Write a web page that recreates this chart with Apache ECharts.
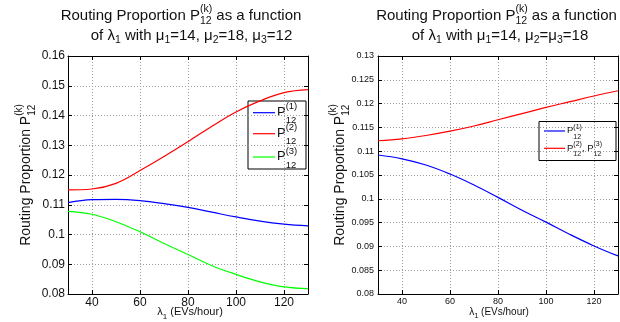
<!DOCTYPE html>
<html>
<head>
<meta charset="utf-8">
<script src="https://cdn.jsdelivr.net/npm/echarts@6/dist/echarts.min.js"></script>
<style>
  html, body { margin: 0; padding: 0; background: #fff; }
  #chart { width: 620px; height: 322px; }
</style>
</head>
<body>
<div id="chart"></div>
<script>
// Arrival rate lambda_1 (EVs/hour)
const lambda = [30, 40, 50, 60, 70, 80, 90, 100, 110, 120, 130];

// Left panel: mu1=14, mu2=18, mu3=12
const leftP1 = [0.1107, 0.1117, 0.1118, 0.1114, 0.1104, 0.1091, 0.1075, 0.1059, 0.1045, 0.1035, 0.1029];
const leftP2 = [0.1150, 0.1153, 0.1172, 0.1215, 0.1262, 0.1312, 0.1364, 0.1412, 0.1449, 0.1477, 0.1487];
const leftP3 = [0.1078, 0.1068, 0.1043, 0.1009, 0.0970, 0.0933, 0.0895, 0.0866, 0.0841, 0.0824, 0.0818];

// Right panel: mu1=14, mu2=mu3=18 (P2 and P3 coincide)
const rightP1 = [0.1092, 0.1084, 0.1071, 0.1052, 0.1029, 0.1003, 0.0976, 0.0951, 0.0925, 0.0901, 0.0880];
const rightP23 = [0.1122, 0.1126, 0.1133, 0.1142, 0.1153, 0.1166, 0.1179, 0.1192, 0.1204, 0.1216, 0.1227];

const xTickValues = [40, 60, 80, 100, 120];
const colors = { p1: '#0000ff', p2: '#ff0000', p3: '#00ff00' };

const FONT = '"Liberation Sans", Arial, Helvetica, sans-serif';
const TEXT = '#111';

// ---- small math-text layout: plain runs plus stacked super/subscripts ----
const mctx = document.createElement('canvas').getContext('2d');
function textWidth(s, size) { mctx.font = size + 'px ' + FONT; return mctx.measureText(s).width; }

function mathRun(pieces, size, small, supUp, subDown) {
  let x = 0;
  const items = [];
  pieces.forEach(p => {
    if (typeof p === 'string') {
      items.push({ t: p, x, size, dy: 0 });
      x += textWidth(p, size);
    } else {
      let w = 0;
      if (p.sup) { items.push({ t: p.sup, x, size: small, dy: -supUp }); w = Math.max(w, textWidth(p.sup, small)); }
      if (p.sub) { items.push({ t: p.sub, x, size: small, dy: subDown }); w = Math.max(w, textWidth(p.sub, small)); }
      x += w;
    }
  });
  return { width: x, items };
}

// text elements with their alphabetic baseline at `baseline`
function runElements(run, x0, baseline) {
  return run.items.map(it => ({
    type: 'text',
    x: x0 + it.x,
    y: baseline + it.dy - 0.35 * it.size,
    silent: true,
    style: { text: it.t, font: it.size + 'px ' + FONT, fill: TEXT, align: 'left', verticalAlign: 'middle' }
  }));
}

function centeredLine(pieces, cx, baseline, size, small, supUp, subDown) {
  const run = mathRun(pieces, size, small, supUp, subDown);
  return runElements(run, cx - run.width / 2, baseline);
}

function verticalLabel(pieces, bx, cy, size, small, supUp, subDown) {
  const run = mathRun(pieces, size, small, supUp, subDown);
  return {
    type: 'group', x: bx, y: cy, rotation: Math.PI / 2,
    children: runElements(run, -run.width / 2, 0)
  };
}

function legendBox(box, entries, lineX0, lineX1, size, small, supUp, subDown) {
  const els = [{
    type: 'rect', silent: true,
    shape: { x: box.x, y: box.y, width: box.w, height: box.h },
    style: { fill: '#fff', stroke: '#000', lineWidth: 1 }
  }];
  entries.forEach(e => {
    els.push({
      type: 'line', silent: true,
      shape: { x1: lineX0, y1: e.y, x2: lineX1, y2: e.y },
      style: { stroke: e.color, lineWidth: 1.2 }
    });
    const run = mathRun(e.label, size, small, supUp, subDown);
    els.push(...runElements(run, lineX1 + 2, e.y + size * 0.33));
  });
  return els;
}

// ---- text content ----
const titleLine1 = ['Routing Proportion P', { sup: '(k)', sub: '12' }, ' as a function'];
const leftTitle2 = ['of λ', { sub: '1' }, ' with μ', { sub: '1' }, '=14, μ', { sub: '2' }, '=18, μ', { sub: '3' }, '=12'];
const rightTitle2 = ['of λ', { sub: '1' }, ' with μ', { sub: '1' }, '=14, μ', { sub: '2' }, '=μ', { sub: '3' }, '=18'];
const yName = ['Routing Proportion P', { sup: '(k)', sub: '12' }];
const xName = ['λ', { sub: '1' }, ' (EVs/hour)'];

const leftLegend = [
  { label: ['P', { sup: '(1)', sub: '12' }], color: colors.p1 },
  { label: ['P', { sup: '(2)', sub: '12' }], color: colors.p2 },
  { label: ['P', { sup: '(3)', sub: '12' }], color: colors.p3 }
];
const rightLegend = [
  { label: ['P', { sup: '(1)', sub: '12' }], color: colors.p1 },
  { label: ['P', { sup: '(2)', sub: '12' }, ', P', { sup: '(3)', sub: '12' }], color: colors.p2 }
];

const graphics = [].concat(
  centeredLine(titleLine1, 181, 20.7, 15, 10.5, 8, 4.5),
  centeredLine(leftTitle2, 191.5, 40.7, 15, 10.5, 7, 3.5),
  centeredLine(titleLine1, 496.5, 20.7, 15, 10.5, 8, 4.5),
  centeredLine(rightTitle2, 500, 40.7, 15, 10.5, 7, 3.5),
  [verticalLabel(yName, 31, 175, 14, 10, 8, 4.5)],
  [verticalLabel(yName, 345, 175, 14, 10, 8, 4.5)],
  centeredLine(xName, 190, 316, 11, 8, 5, 3.5),
  centeredLine(xName, 499, 315.5, 10, 7.5, 5, 3.5),
  legendBox({ x: 248, y: 101, w: 58, h: 68 },
    leftLegend.map((e, i) => Object.assign({ y: [112.7, 133.7, 157][i] }, e)),
    253, 275, 13, 9.5, 7, 7),
  legendBox({ x: 539, y: 121.5, w: 77, h: 39 },
    rightLegend.map((e, i) => Object.assign({ y: [131, 148.3][i] }, e)),
    544, 565, 9.5, 7, 5, 5)
);

// ---- axes ----
const black = { show: true, lineStyle: { color: '#000', width: 1 } };
const dotted = { show: true, lineStyle: { color: '#9a9a9a', type: [1, 2], width: 1 } };

function xAxes(gridIndex, labelSize) {
  return [
    {
      type: 'value', gridIndex, position: 'bottom', min: 30, max: 130, interval: 10,
      axisLine: black,
      axisTick: { show: true, inside: true, length: 4, customValues: xTickValues, lineStyle: { color: '#000' } },
      axisLabel: { customValues: xTickValues, fontSize: labelSize, fontFamily: FONT, color: TEXT, margin: 3 },
      splitLine: dotted
    },
    {
      type: 'value', gridIndex, position: 'top', min: 30, max: 130, interval: 10,
      axisLine: black,
      axisTick: { show: true, inside: true, length: 4, customValues: xTickValues, lineStyle: { color: '#000' } },
      axisLabel: { show: false },
      splitLine: { show: false }
    }
  ];
}

function yAxes(gridIndex, min, max, interval, labelSize, margin) {
  return [
    {
      type: 'value', gridIndex, position: 'left', min, max, interval,
      axisLine: black,
      axisTick: { show: true, inside: true, length: 4, lineStyle: { color: '#000' } },
      axisLabel: { fontSize: labelSize, fontFamily: FONT, color: TEXT, margin },
      splitLine: dotted
    },
    {
      type: 'value', gridIndex, position: 'right', min, max, interval,
      axisLine: black,
      axisTick: { show: true, inside: true, length: 4, lineStyle: { color: '#000' } },
      axisLabel: { show: false },
      splitLine: { show: false }
    }
  ];
}

function curve(values, color, xi, yi) {
  return {
    type: 'line', xAxisIndex: xi, yAxisIndex: yi,
    data: lambda.map((x, i) => [x, values[i]]),
    showSymbol: false, smooth: 0.4, silent: true,
    lineStyle: { color, width: 1.2 }, itemStyle: { color },
    z: 3
  };
}

const chart = echarts.init(document.getElementById('chart'), null, { renderer: 'canvas' });
chart.setOption({
  animation: false,
  backgroundColor: '#fff',
  grid: [
    { left: 68, right: 312, top: 56, bottom: 28 },
    { left: 378, right: 2, top: 56, bottom: 28 }
  ],
  xAxis: [].concat(xAxes(0, 12), xAxes(1, 9)),
  yAxis: [].concat(yAxes(0, 0.08, 0.16, 0.01, 12, 3), yAxes(1, 0.08, 0.13, 0.005, 9, 4)),
  series: [
    curve(leftP1, colors.p1, 0, 0),
    curve(leftP2, colors.p2, 0, 0),
    curve(leftP3, colors.p3, 0, 0),
    curve(rightP1, colors.p1, 2, 2),
    curve(rightP23, colors.p2, 2, 2)
  ],
  graphic: { elements: graphics }
});
</script>
</body>
</html>
